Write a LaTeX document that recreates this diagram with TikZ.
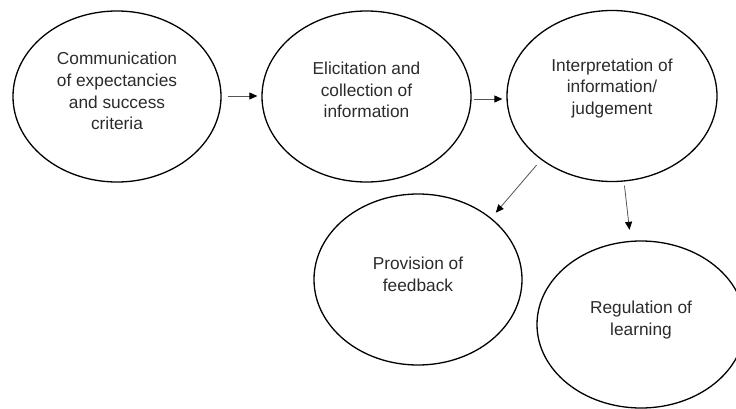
\documentclass[tikz,border=0pt]{standalone}
\usepackage{fontspec}
\setmainfont{Liberation Sans}
\usetikzlibrary{arrows.meta,shapes.geometric,calc}
\definecolor{txtgray}{HTML}{2B2B2B}
\definecolor{arrgray}{HTML}{555555}
\begin{document}
\begin{tikzpicture}[x=1pt,y=1pt,
  ell/.style={draw=black,line width=1.3pt,ellipse,minimum width=208pt,minimum height=171pt,inner sep=0pt},
  txt/.style={text=txtgray,font=\fontsize{17.3}{21.7}\selectfont,align=center,inner sep=0pt},
  arr/.style={draw=arrgray,line width=0.8pt,-{Triangle[length=8pt,width=7pt,color=black]}}]
\useasboundingbox (0,0) rectangle (736,-409);
\begin{scope}
\clip (0,0) rectangle (736,-409);
\node[ell] (e1) at (117,-96.5) {};
\node[ell,minimum width=209pt] (e2) at (366.5,-96.5) {};
\node[ell,minimum width=210pt] (e3) at (612,-96) {};
\node[ell] (e4) at (418,-279.5) {};
\node[ell,minimum height=167pt] (e5) at (641,-324.5) {};
\end{scope}
\node[txt] (t1) at ([yshift=5.5pt]e1.center) {Communication\\of expectancies\\and success\\criteria};
\node[txt] (t2) at ([yshift=6.5pt]e2.center) {Elicitation and\\collection of\\information};
\node[txt] (t3) at ([yshift=7.5pt]e3.center) {Interpretation of\\information/\\judgement};
\node[txt] (t4) at ([yshift=5pt]e4.center) {Provision of\\feedback};
\node[txt] (t5) at ([yshift=4.5pt]e5.center) {Regulation of\\learning};
\draw[arr,shorten <=6pt,shorten >=4pt] ([yshift=0.5pt]e1.east) -- ([yshift=0.5pt]e2.west);
\draw[arr,shorten <=2pt,shorten >=4pt] ([yshift=-2.5pt]e2.east) -- ([yshift=-3pt]e3.west);
\draw[arr,shorten <=7pt,shorten >=7pt] (e3.222) -- (e4.40.5);
\draw[arr,shorten <=4pt,shorten >=11pt] (e3.278) -- (e5.97);
\end{tikzpicture}
\end{document}
